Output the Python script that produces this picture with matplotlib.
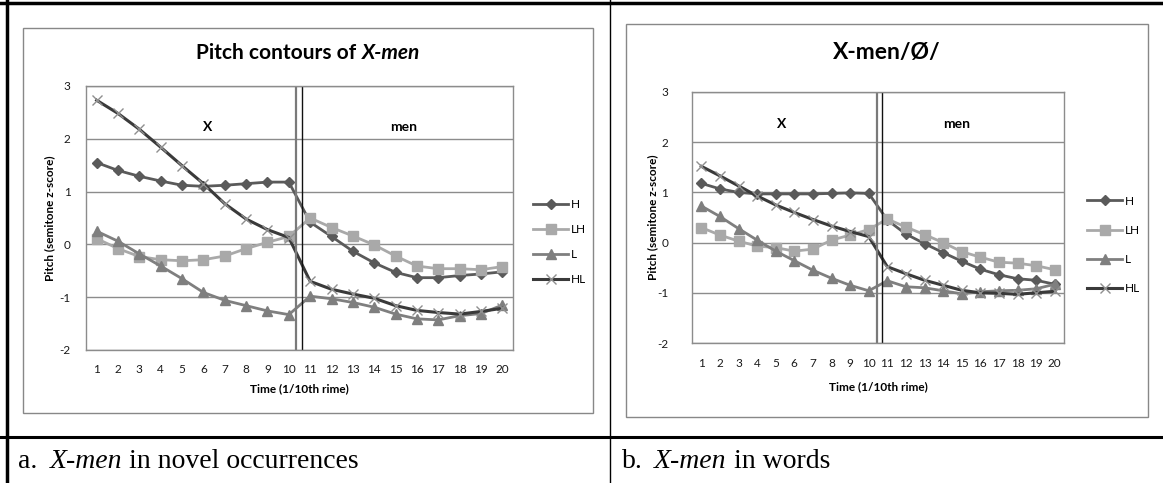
import matplotlib
matplotlib.use('Agg')
import matplotlib.pyplot as plt
from matplotlib.patches import Rectangle
from matplotlib.lines import Line2D

plt.rcParams['font.family'] = ['Lato', 'DejaVu Sans']
plt.rcParams['axes.unicode_minus'] = False

W, H_PX = 1163, 483

time = list(range(1, 21))
tick_labels = [str(t) for t in time]
series_names = ['H', 'LH', 'L', 'HL']

# X-men in novel occurrences
novel_H = [1.55, 1.40, 1.29, 1.20, 1.12, 1.10, 1.12, 1.15, 1.18, 1.18,
           0.42, 0.15, -0.13, -0.35, -0.53, -0.63, -0.63, -0.59, -0.56, -0.52]
novel_LH = [0.11, -0.08, -0.23, -0.29, -0.31, -0.29, -0.22, -0.08, 0.04, 0.15,
            0.50, 0.32, 0.16, -0.01, -0.22, -0.41, -0.46, -0.46, -0.48, -0.42]
novel_L = [0.25, 0.06, -0.18, -0.41, -0.65, -0.91, -1.06, -1.16, -1.26, -1.33,
           -0.98, -1.03, -1.10, -1.19, -1.32, -1.41, -1.43, -1.35, -1.31, -1.15]
novel_HL = [2.73, 2.48, 2.18, 1.84, 1.49, 1.15, 0.77, 0.48, 0.28, 0.13,
            -0.70, -0.85, -0.94, -1.02, -1.16, -1.25, -1.29, -1.32, -1.27, -1.21]

# X-men in words
words_H = [1.18, 1.07, 1.00, 0.97, 0.97, 0.97, 0.97, 0.98, 0.99, 0.98,
           0.45, 0.17, -0.02, -0.20, -0.37, -0.53, -0.64, -0.72, -0.75, -0.83]
words_LH = [0.30, 0.15, 0.03, -0.07, -0.10, -0.17, -0.13, 0.05, 0.15, 0.26,
            0.47, 0.31, 0.16, 0.00, -0.18, -0.29, -0.39, -0.41, -0.46, -0.54]
words_L = [0.73, 0.52, 0.28, 0.05, -0.17, -0.36, -0.55, -0.71, -0.85, -0.96,
           -0.76, -0.88, -0.90, -0.96, -1.02, -0.98, -0.96, -0.95, -0.92, -0.83]
words_HL = [1.52, 1.33, 1.13, 0.93, 0.75, 0.60, 0.46, 0.33, 0.22, 0.12,
            -0.48, -0.62, -0.75, -0.85, -0.95, -1.00, -1.01, -1.03, -1.00, -0.97]


def fx(x):
    return x / W


def fy(y):
    return 1 - y / H_PX


def rect(x0, y0, x1, y1):
    return [fx(x0), fy(y1), fx(x1) - fx(x0), fy(y0) - fy(y1)]


def text_run(fig, x, y, parts, align='left', **kw):
    # lay out mixed upright/italic pieces one after another
    renderer = fig.canvas.get_renderer()
    items = []
    total = 0
    for s, style in parts:
        t = fig.text(0, y, s, ha='left', va='center', fontstyle=style, **kw)
        w = t.get_window_extent(renderer).width / fig.bbox.width
        items.append((t, w))
        total += w
    if align == 'center':
        x = x - total / 2
    for t, w in items:
        t.set_x(x)
        x += w


styles = {
    'H': dict(color='#5a5a5a', marker='D', ms=5.5, mfc='#5a5a5a', mec='#5a5a5a', lw=2.0),
    'LH': dict(color='#a9a9a9', marker='s', ms=6.5, mfc='#a9a9a9', mec='#a9a9a9', lw=2.0),
    'L': dict(color='#7f7f7f', marker='^', ms=7, mfc='#7f7f7f', mec='#7f7f7f', lw=2.0),
    'HL': dict(color='#3a3a3a', marker='x', ms=7, mec='#8f8f8f', mew=1.0, lw=2.2),
}


def draw_panel(fig, frame, plot, values, title_parts, title_y, title_size,
               seg_y, x_pos, men_pos, split, ytick_pad, xtick_pad,
               ylabel_x, xlabel_y, legend_xy, legend_space):
    fig.add_artist(Rectangle((frame[0], frame[1]), frame[2], frame[3],
                             transform=fig.transFigure, fill=False,
                             ec='#888888', lw=1.0))
    ax = fig.add_axes(plot)
    for name, vals in zip(series_names, values):
        ax.plot(time, vals, label=name, **styles[name])
    ax.set_xlim(0.5, 20.5)
    ax.set_ylim(-2, 3)
    ax.set_yticks([-2, -1, 0, 1, 2, 3])
    ax.set_xticks(time)
    ax.set_xticklabels(tick_labels)
    ax.grid(axis='y', color='#8c8c8c', lw=1.0)
    ax.set_axisbelow(True)
    for s in ax.spines.values():
        s.set_color('#8c8c8c')
        s.set_linewidth(1.0)
    ax.tick_params(length=0, labelsize=8.5, labelcolor='#1a1a1a')
    ax.tick_params(axis='y', pad=ytick_pad)
    ax.tick_params(axis='x', pad=xtick_pad)

    ax.axvline(split[0], color='#7a7a7a', lw=1.6)
    ax.axvline(split[1], color='#111111', lw=1.0)

    ax.text(x_pos, seg_y, 'X', ha='center', va='center', fontsize=10, fontweight='bold')
    ax.text(men_pos, seg_y, 'men', ha='center', va='center', fontsize=10, fontweight='bold')

    text_run(fig, frame[0] + frame[2] / 2, title_y, title_parts, align='center',
             fontsize=title_size, fontweight='bold')
    fig.text(ylabel_x, plot[1] + plot[3] / 2, 'Pitch (semitone z-score)', rotation=90,
             ha='center', va='center', fontsize=8.5, fontweight='bold')
    fig.text(plot[0] + plot[2] / 2, xlabel_y, 'Time (1/10th rime)', ha='center',
             va='center', fontsize=8.5, fontweight='bold')

    ax.legend(loc='center left', bbox_to_anchor=legend_xy, bbox_transform=fig.transFigure,
              frameon=False, fontsize=8.5, handlelength=3.0, handletextpad=0.2,
              labelspacing=legend_space, borderpad=0, borderaxespad=0, numpoints=1)
    return ax


fig = plt.figure(figsize=(W / 100, H_PX / 100), dpi=100)
fig.patch.set_facecolor('white')

# left panel
draw_panel(fig, rect(23, 28, 593, 413), rect(86, 86, 513, 350),
           [novel_H, novel_LH, novel_L, novel_HL],
           [('Pitch contours of ', 'normal'), ('X-men', 'italic')], fy(53), 15,
           2.23, 6.2, 15.4, (10.34, 10.63), 11, 10,
           fx(50), fy(389), (fx(533), fy(242)), 1.2)

# right panel
draw_panel(fig, rect(626, 24, 1148, 417), rect(692, 92, 1064, 343),
           [words_H, words_LH, words_L, words_HL],
           [('X-men/Ø/', 'normal')], fy(53), 16.5,
           2.36, 5.34, 14.75, (10.43, 10.73), 17, 11,
           fx(653), fy(387), (fx(1087), fy(245)), 1.55)

# table rules
table_lines = [
    ((0, W), (3, 3), 2.5),
    ((7, 7), (0, H_PX), 2.5),
    ((610, 610), (0, H_PX), 1.0),
    ((0, W), (437, 437), 2.2),
]
for xs, ys, lw in table_lines:
    fig.add_artist(Line2D([fx(xs[0]), fx(xs[1])], [fy(ys[0]), fy(ys[1])],
                          transform=fig.transFigure, color='black', lw=lw))

cap = dict(fontsize=20, family='Liberation Serif')
fig.text(fx(18), fy(461), 'a.', ha='left', va='center', **cap)
text_run(fig, fx(50), fy(461), [('X-men', 'italic'), (' in novel occurrences', 'normal')], **cap)
fig.text(fx(622), fy(461), 'b.', ha='left', va='center', **cap)
text_run(fig, fx(654), fy(461), [('X-men', 'italic'), (' in words', 'normal')], **cap)

plt.savefig('out.png', dpi=100)
plt.close()
